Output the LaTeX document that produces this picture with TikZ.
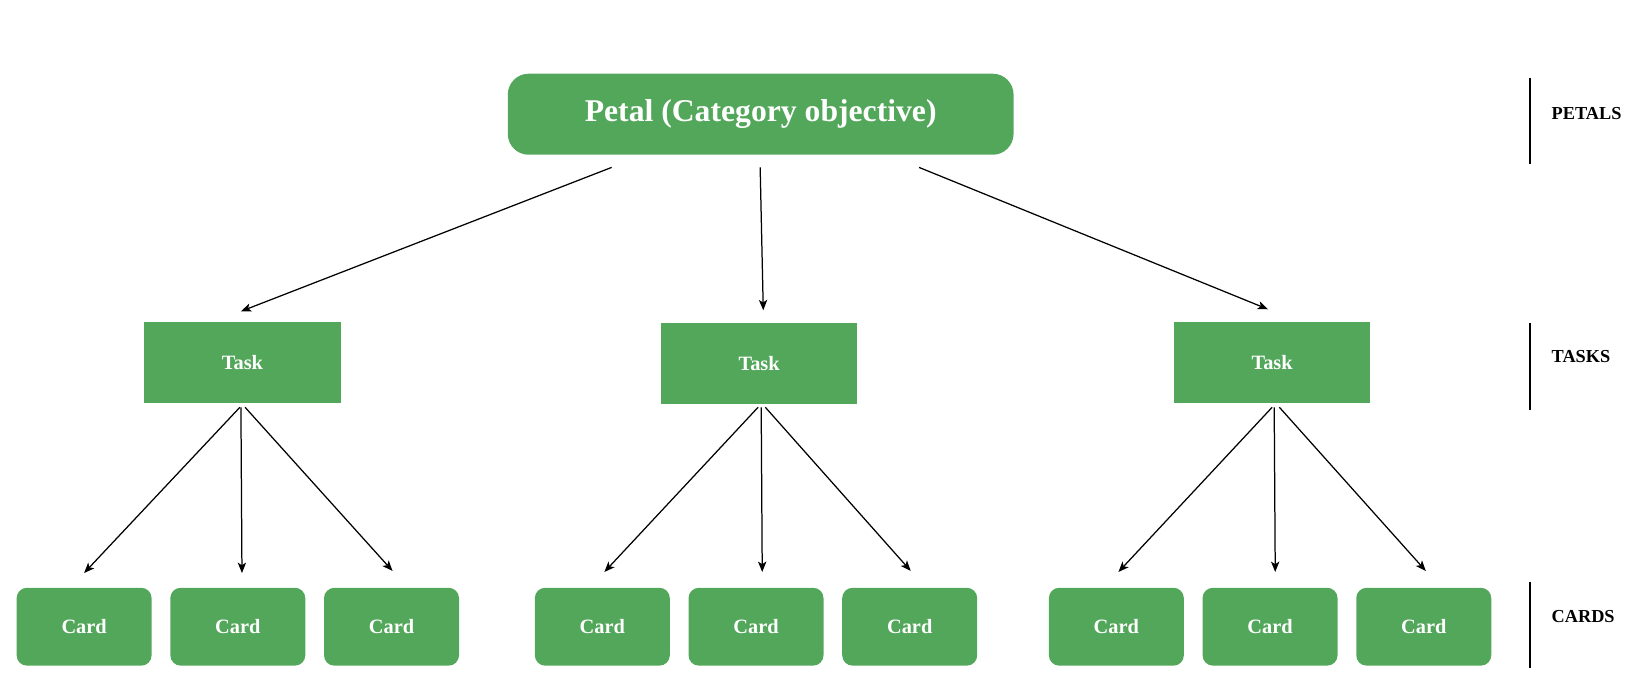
\documentclass[tikz,border=0pt]{standalone}
\usepackage{fontspec}
\setmainfont{Liberation Serif}
\usetikzlibrary{arrows.meta}
\definecolor{leaf}{RGB}{83,167,91}
\begin{document}
\begin{tikzpicture}[x=1pt,y=-1pt,
  box/.style={fill=leaf,draw=none,text=white,font=\bfseries\fontsize{19.6}{22}\selectfont,inner sep=0pt},
  petalbox/.style={box,rounded corners=20pt,minimum width=487pt,minimum height=78pt,font=\bfseries\fontsize{30.5}{34}\selectfont},
  taskbox/.style={box,minimum width=189pt,minimum height=78pt},
  cardbox/.style={box,rounded corners=10pt,minimum width=130pt,minimum height=75pt},
  arr/.style={draw=black,line width=1.2pt,-{Stealth[length=10pt,width=8pt,inset=2.5pt]}},
  lvl/.style={font=\bfseries\fontsize{17.6}{20}\selectfont,anchor=west,inner sep=0pt},
  bar/.style={line width=2pt}]
\useasboundingbox (0,0) rectangle (1567.7,666.3);
\node[petalbox] (petal) at (732.5,110) {Petal (Category objective)};
\node[taskbox] (t1) at (233.5,349) {Task};
\node[taskbox] (t2) at (731,350) {Task};
\node[taskbox] (t3) at (1225,349) {Task};
\foreach \n/\x in {c1/81,c2/229,c3/377,c4/580,c5/728,c6/876,c7/1075,c8/1223,c9/1371}
  \node[cardbox] (\n) at (\x,603.5) {Card};
% petal -> tasks
\draw[arr] ([xshift=-143.5pt,yshift=-12pt]petal.south) -- ([xshift=-1.5pt,yshift=10pt]t1.north);
\draw[arr] ([xshift=-0.5pt,yshift=-12pt]petal.south) -- ([xshift=4pt,yshift=12pt]t2.north);
\draw[arr] ([xshift=152.5pt,yshift=-12pt]petal.south) -- ([xshift=-4pt,yshift=12pt]t3.north);
% tasks -> cards
\draw[arr] ([xshift=-2.5pt,yshift=-4pt]t1.south) -- ([yshift=14pt]c1.north);
\draw[arr] ([xshift=-1.5pt,yshift=-4pt]t1.south) -- ([xshift=4pt,yshift=14pt]c2.north);
\draw[arr] ([xshift=2.5pt,yshift=-4pt]t1.south) -- ([xshift=1pt,yshift=16pt]c3.north);
\draw[arr] ([xshift=-1pt,yshift=-3pt]t2.south) -- ([xshift=2pt,yshift=15pt]c4.north);
\draw[arr] ([xshift=2pt,yshift=-3pt]t2.south) -- ([xshift=6pt,yshift=15pt]c5.north);
\draw[arr] ([xshift=6pt,yshift=-3pt]t2.south) -- ([xshift=1pt,yshift=16pt]c6.north);
\draw[arr] ([xshift=0pt,yshift=-4pt]t3.south) -- ([xshift=2pt,yshift=15pt]c7.north);
\draw[arr] ([xshift=2pt,yshift=-4pt]t3.south) -- ([xshift=5pt,yshift=15pt]c8.north);
\draw[arr] ([xshift=7pt,yshift=-4pt]t3.south) -- ([xshift=2pt,yshift=16pt]c9.north);
% level labels
\coordinate (b1a) at (1473,75); \coordinate (b1b) at (1473,158);
\coordinate (b2a) at (1473,311); \coordinate (b2b) at (1473,395);
\coordinate (b3a) at (1473,560); \coordinate (b3b) at (1473,643);
\draw[bar] (b1a) -- (b1b);
\draw[bar] (b2a) -- (b2b);
\draw[bar] (b3a) -- (b3b);
\node[lvl] (lp) at (1494,109) {PETALS};
\node[lvl] (lt) at (1494,343) {TASKS};
\node[lvl] (lc) at (1494,594) {CARDS};
\end{tikzpicture}
\end{document}
